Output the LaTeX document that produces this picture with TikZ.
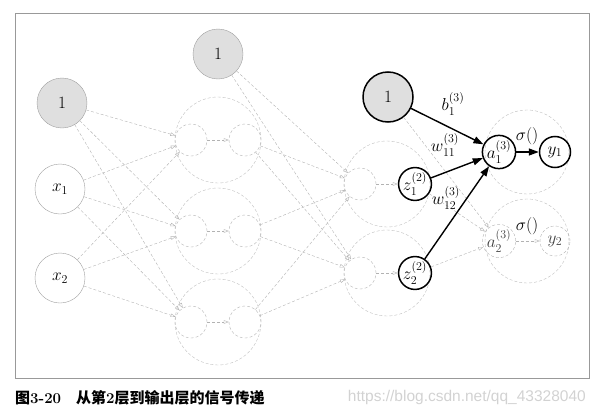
\documentclass[tikz,border=0pt]{standalone}
\usepackage{amsmath}
\usepackage{fontspec}
\newfontfamily\cjkfont{Noto Sans CJK SC}
\newfontfamily\urlfont{Liberation Sans}
\usetikzlibrary{arrows.meta}

\tikzset{
  unit/.style={circle, draw=gray!75, minimum size=50pt, inner sep=0pt},
  bias/.style={unit, fill=gray!25},
  cell/.style={circle, draw=gray!60, densely dashed, minimum size=32pt, inner sep=0pt},
  hot/.style={circle, draw=black, line width=1.5pt, minimum size=31pt, inner sep=0pt},
  layer/.style={circle, draw=gray!50, densely dashed, minimum size=86pt, inner sep=0pt},
  faint/.style={draw=gray!60, densely dashed, thin, -{Triangle[open,length=5pt,width=3.5pt]}},
  strong/.style={draw=black, line width=1.4pt, -{Triangle[length=10pt,width=7pt]}},
}

\begin{document}
\begin{tikzpicture}[x=1pt,y=-1pt,font=\fontsize{17.28}{20}\selectfont]
\useasboundingbox (0,0) rectangle (594,415);
\draw[gray!80,thin] (15,13) rectangle (589,378);

% input layer
\node[bias] (in0) at (62,103) {$1$};
\node[unit] (x1) at (60,189) {$x_1$};
\node[unit] (x2) at (60,278) {$x_2$};

% first hidden layer
\node[bias] (b1) at (218,54) {$1$};
\foreach \i/\y in {1/140,2/231,3/322} {
\node[layer] (L\i) at (218,\y) {};
\node[cell] (p\i) at (191,\y) {};
\node[cell] (q\i) at (245,\y) {};
\draw[faint] (p\i) -- (q\i);
}
\foreach \s in {in0,x1,x2} {
\foreach \i in {1,2,3} {
\draw[faint] (\s) -- (p\i);
}
}

% second hidden layer
\node[bias,draw=black,line width=1.5pt] (b2) at (388,97) {$1$};
\foreach \j/\y in {1/184,2/273} {
\node[layer] (M\j) at (387,\y) {};
\node[cell] (r\j) at (360,\y) {};
\node[hot] (z\j) at (415,\y) {$z_\j^{(2)}$};
\draw[faint] (r\j) -- (z\j);
\draw[faint] (b1) -- (r\j);
\foreach \i in {1,2,3} {
\draw[faint] (q\i) -- (r\j);
}
}

% output layer
\node[layer,minimum size=84pt] (N1) at (527,152) {};
\node[layer,minimum size=84pt] (N2) at (527,241) {};
\node[hot] (a1) at (499,152) {$a_1^{(3)}$};
\node[hot] (y1) at (555,152) {$y_1$};
\node[cell,minimum size=30pt,text=black!75] (a2) at (499,241) {$a_2^{(3)}$};
\node[cell,minimum size=30pt,text=black!75] (y2) at (555,241) {$y_2$};

\draw[faint] (b2) -- (a2);
\draw[faint] (z1) -- (a2);
\draw[faint] (z2) -- (a2);
\draw[faint] (a2) -- (y2);
\draw[strong] (b2) -- (a1);
\draw[strong] (z1) -- (a1);
\draw[strong] (z2) -- (a1);
\draw[strong] (a1) -- (y1);

\node (lb) at (453,104) {$b_1^{(3)}$};
\node (lw11) at (445,145) {$w_{11}^{(3)}$};
\node (lw12) at (446,198) {$w_{12}^{(3)}$};
\node (s1) at (527,136) {$\sigma()$};
\node (s2) at (527,226) {$\sigma()$};

% caption and mark
\node[anchor=west,inner sep=0pt] (cap) at (15,398) {\fontsize{15}{18}\selectfont\cjkfont\bfseries 图{\normalfont\bfseries 3-20}\hspace{1em}从第{\normalfont\bfseries 2}层到输出层的信号传递};
\node[anchor=east,inner sep=0pt,text=gray!35] (url) at (586,397) {\fontsize{15.5}{18}\selectfont\urlfont https://blog.csdn.net/qq\_43328040};
\end{tikzpicture}
\end{document}
